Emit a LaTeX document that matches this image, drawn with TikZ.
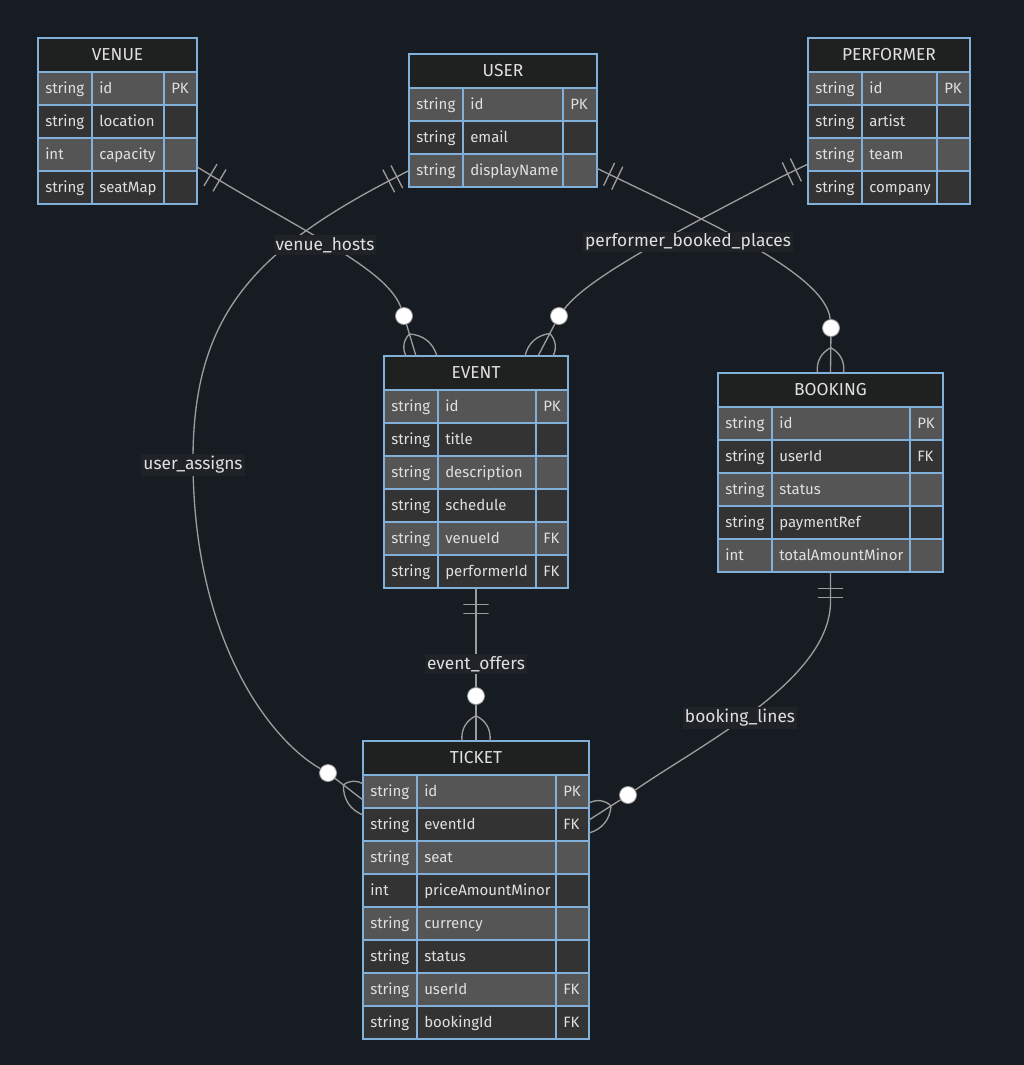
\documentclass[tikz,border=0pt]{standalone}
\usepackage{fontspec}
\setmainfont{Fira Sans}
\usetikzlibrary{calc,positioning}

\definecolor{erbg}{HTML}{171B22}
\definecolor{erheadfill}{HTML}{1F2020}
\definecolor{rowlight}{HTML}{555555}
\definecolor{rowdark}{HTML}{333333}
\definecolor{erblue}{HTML}{81B1DB}
\definecolor{linkgray}{HTML}{9C9C9C}
\definecolor{ertext}{HTML}{E0E0E0}
\definecolor{lblbg}{HTML}{1F2226}

% #1 name, #2 left, #3 top, #4/#5/#6 column widths, #7 title, #8 row count, #9 rows
\newcommand{\erentity}[9]{%
  \fill[erheadfill] (#2,#3) rectangle ++(#4+#5+#6,34);
  \node[ertitle] (#1-title) at (#2+0.5*#4+0.5*#5+0.5*#6,#3+17) {#7};
  \foreach \ty/\nm/\ky [count=\i] in {#9} {
    \pgfmathsetmacro{\ry}{#3+34+(\i-1)*33}
    \pgfmathtruncatemacro{\odd}{mod(\i,2)}
    \ifnum\odd=1 \colorlet{rowc}{rowlight}\else\colorlet{rowc}{rowdark}\fi
    \filldraw[fill=rowc, draw=erblue, line width=1pt] (#2,\ry) rectangle ++(#4,33)
      (#2+#4,\ry) rectangle ++(#5,33) (#2+#4+#5,\ry) rectangle ++(#6,33);
    \node[ercell] (#1-t\i) at (#2+7,\ry+17.5) {\ty};
    \node[ercell] (#1-n\i) at (#2+#4+7,\ry+17.5) {\nm};
    \node[ercell] (#1-k\i) at (#2+#4+#5+7,\ry+17.5) {\ky};
  }
  \node[erframe, minimum width={(#4+#5+#6)*0.75pt},
    minimum height={(34+#8*33)*0.75pt}, anchor=north west] (#1) at (#2,#3) {};
}

% #1 circle, #2 middle end, #3 end bent right, #4 end bent left
\newcommand{\crowfoot}[4]{%
  \path (#1) -- (#2) coordinate[pos=0.3] (#1-apex);
  \draw[erlink] (#1) -- (#2);
  \draw[erlink] (#1-apex) to[bend right=35] (#3);
  \draw[erlink] (#1-apex) to[bend left=35] (#4);
}

\begin{document}
\begin{tikzpicture}[x=0.75pt, y=-0.75pt,
  ertitle/.style={text=ertext, font=\fontsize{13}{15}\selectfont, inner sep=0pt},
  ercell/.style={anchor=west, text=ertext, font=\fontsize{11.25}{13}\selectfont,
    inner sep=0pt, text height=8pt, text depth=2pt},
  erframe/.style={draw=erblue, line width=1pt, outer sep=0pt, inner sep=0pt},
  erlink/.style={draw=linkgray, line width=1pt},
  ercircle/.style={circle, fill=white, draw=linkgray, line width=0.6pt,
    minimum size=12.75pt, inner sep=0pt},
  onemark/.style={draw=linkgray, line width=1pt, sloped, minimum height=19pt,
    minimum width=0pt, inner sep=0pt, outer sep=0pt},
  erlabel/.style={fill=lblbg, text=ertext, font=\fontsize{13}{15}\selectfont,
    inner sep=1.5pt}]

\fill[erbg] (0,0) rectangle (1024,1065);
\useasboundingbox (0,0) rectangle (1024,1065);

% entities
\erentity{venue}{38}{38}{54}{72}{33}{VENUE}{4}{string/id/PK, string/location/{}, int/capacity/{}, string/seatMap/{}}
\erentity{user}{409}{54}{54}{100}{34}{USER}{3}{string/id/PK, string/email/{}, string/displayName/{}}
\erentity{performer}{808}{38}{54}{75}{33}{PERFORMER}{4}{string/id/PK, string/artist/{}, string/team/{}, string/company/{}}
\erentity{event}{384}{356}{54}{98}{32}{EVENT}{6}{string/id/PK, string/title/{}, string/description/{}, string/schedule/{}, string/venueId/FK, string/performerId/FK}
\erentity{booking}{718}{373}{54}{138}{33}{BOOKING}{5}{string/id/PK, string/userId/FK, string/status/{}, string/paymentRef/{}, int/totalAmountMinor/{}}
\erentity{ticket}{363}{741}{54}{139}{33}{TICKET}{8}{string/id/PK, string/eventId/FK, string/seat/{}, int/priceAmountMinor/{}, string/currency/{}, string/status/{}, string/userId/FK, string/bookingId/FK}

% optional-many ends
\node[ercircle] (c-venue) at (404,316) {};
\node[ercircle] (c-perf) at (559,316) {};
\node[ercircle] (c-book) at (831,328) {};
\node[ercircle] (c-offer) at (476,696) {};
\node[ercircle] (c-assign) at (328,773) {};
\node[ercircle] (c-lines) at (628,795) {};

% venue hosts event
\draw[erlink] (venue.-30) -- ++(30,18) node[onemark,pos=0.45] (m-venue-a) {} node[onemark,pos=0.75] (m-venue-b) {}
  .. controls (320,240) and (388,272) .. (c-venue);
\crowfoot{c-venue}{$(event.north west)+(32,0)$}{$(event.north west)+(22,0)$}{$(event.north west)+(53,0)$}

% user assigns ticket
\draw[erlink] (user.208) -- ++(-27,14) node[onemark,pos=0.45] (m-user-a) {} node[onemark,pos=0.75] (m-user-b) {}
  .. controls (250,255) and (193,320) .. (193,460)
  .. controls (193,640) and (270,740) .. (c-assign);
\crowfoot{c-assign}{$(ticket.north west)+(0,59)$}{$(ticket.north west)+(0,74)$}{$(ticket.north west)+(0,43)$}

% performer booked at event
\draw[erlink] (performer.208) -- ++(-27,13) node[onemark,pos=0.45] (m-perf-a) {} node[onemark,pos=0.75] (m-perf-b) {}
  .. controls (690,225) and (590,275) .. (c-perf);
\crowfoot{c-perf}{$(event.north west)+(154,0)$}{$(event.north west)+(141,0)$}{$(event.north west)+(169,0)$}

% user places booking
\draw[erlink] (user.-27) -- ++(27,13) node[onemark,pos=0.45] (m-book-a) {} node[onemark,pos=0.75] (m-book-b) {}
  .. controls (710,223) and (826,275) .. (c-book);
\crowfoot{c-book}{booking.north}{$(booking.north)+(-13,0)$}{$(booking.north)+(13,0)$}

% event offers ticket
\draw[erlink] (event.south) -- ++(0,30) node[onemark,pos=0.55] (m-offer-a) {} node[onemark,pos=0.85] (m-offer-b) {}
  -- (c-offer);
\crowfoot{c-offer}{ticket.north}{$(ticket.north)+(-14,0)$}{$(ticket.north)+(14,0)$}

% booking lines
\draw[erlink] (booking.south) -- ++(0,30) node[onemark,pos=0.55] (m-lines-a) {} node[onemark,pos=0.85] (m-lines-b) {}
  .. controls (830,680) and (700,745) .. (c-lines);
\crowfoot{c-lines}{$(ticket.north east)+(0,79)$}{$(ticket.north east)+(0,62)$}{$(ticket.north east)+(0,92)$}

% relationship labels
\node[erlabel] (l-hosts) at (325,245) {venue\_hosts};
\node[erlabel] (l-assigns) at (193,465) {user\_assigns};
\node[erlabel] (l-places) at (688,242) {performer\_booked\_places};
\node[erlabel] (l-offers) at (476,664) {event\_offers};
\node[erlabel] (l-lines) at (740,718) {booking\_lines};
\end{tikzpicture}
\end{document}
